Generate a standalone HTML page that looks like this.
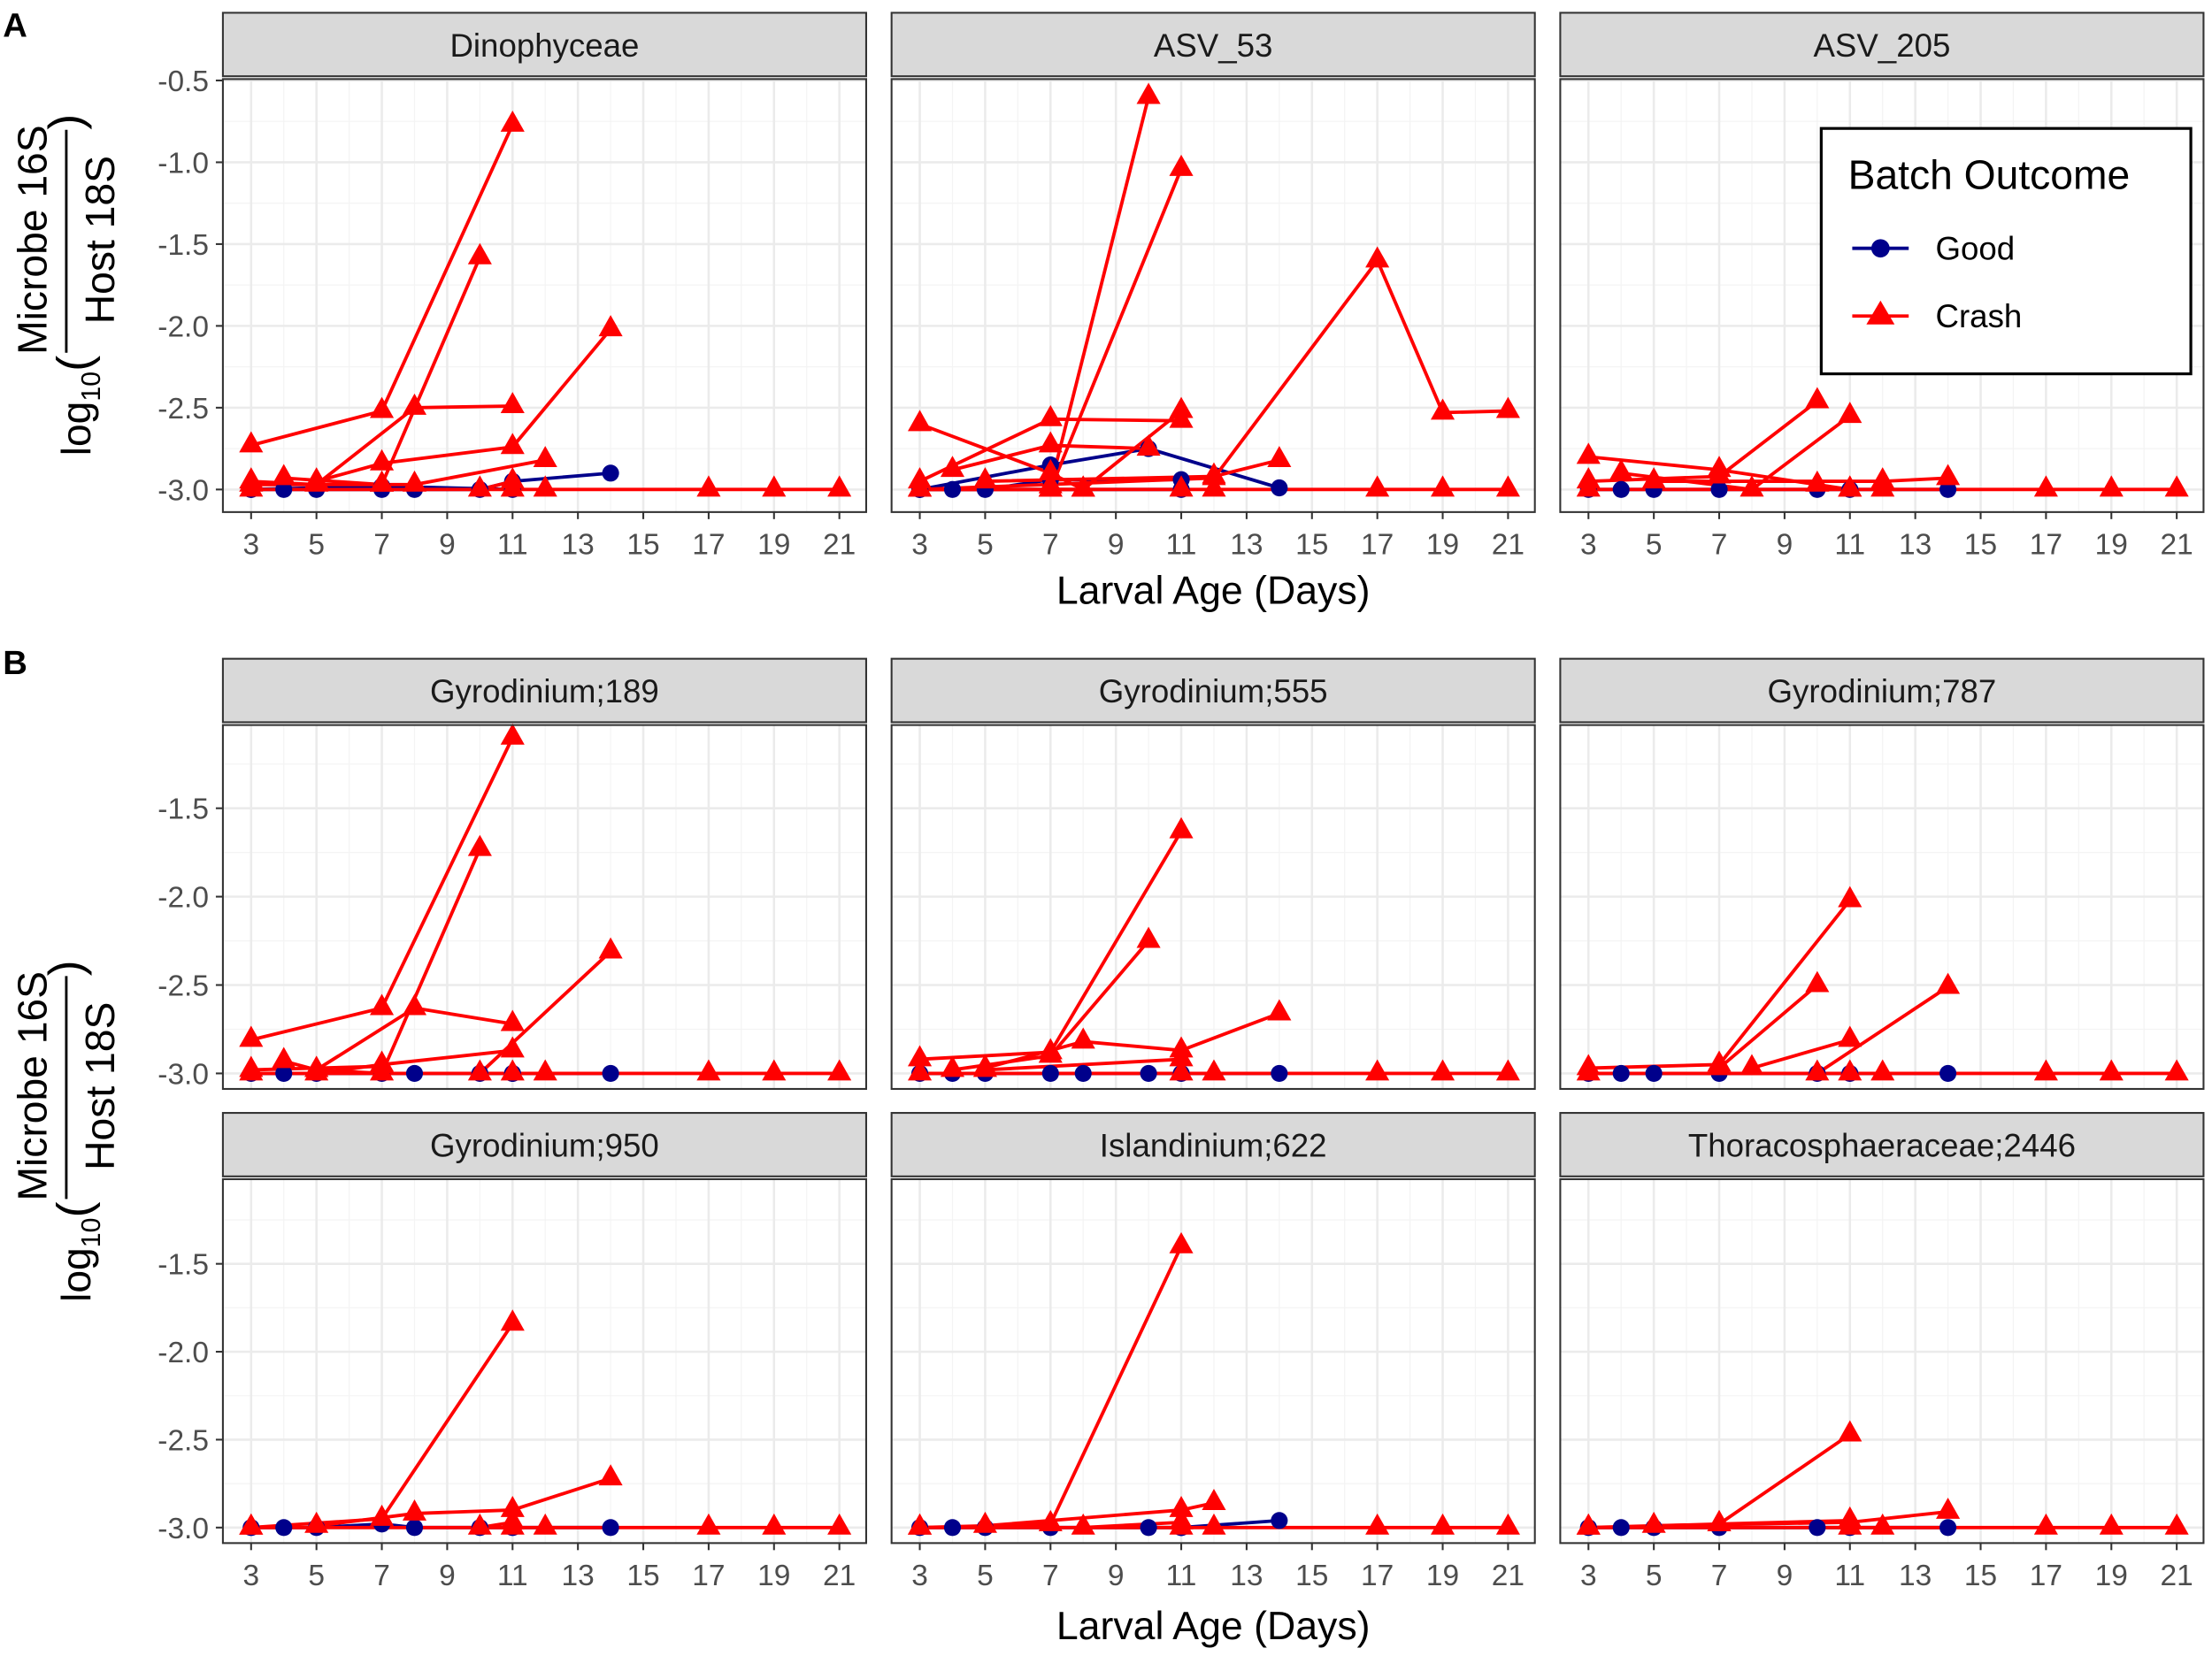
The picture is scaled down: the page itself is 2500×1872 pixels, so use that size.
<!DOCTYPE html>
<html><head><meta charset="utf-8"><style>
html,body{margin:0;padding:0;background:#fff}
svg{display:block}
text{font-family:"Liberation Sans",sans-serif}
</style></head><body>
<svg id="fig" width="2500" height="1872" viewBox="0 0 1568 1174" xmlns="http://www.w3.org/2000/svg">
<g id="root"></g>
</svg>
<script>
// ---- data ----
const panelTitles = ["Dinophyceae","ASV_53","ASV_205","Gyrodinium;189","Gyrodinium;555","Gyrodinium;787","Gyrodinium;950","Islandinium;622","Thoracosphaeraceae;2446"];
const xTicks = [3,5,7,9,11,13,15,17,19,21];
const yTicksA = [-0.5,-1.0,-1.5,-2.0,-2.5,-3.0];
const yTicksB = [-1.5,-2.0,-2.5,-3.0];
const flatDays = [3,11,12,17,19,21];
const crash0 = [
 [[3,-2.73],[7,-2.52],[11,-0.77]],
 [[3,-2.95],[5,-2.97],[8,-2.5],[11,-2.49]],
 [[4,-2.93],[7,-2.97],[10,-1.58]],
 [[5,-2.95],[7,-2.84],[11,-2.74],[14,-2.02]],
 [[3,-2.97],[7,-2.97],[8,-2.97],[12,-2.82]],
 [[10,-3.0],[11,-2.95]]
];
const good0 = [[[3,-3],[4,-3],[5,-3],[7,-3],[8,-3],[10,-3],[11,-2.95],[14,-2.9]],[[3,-3],[7,-2.98],[11,-3]]];
const crash1 = [
 [[3,-2.6],[7,-2.9],[8,-3.0]],
 [[7,-2.98],[10,-0.6]],
 [[3,-2.95],[7,-2.57],[11,-2.58]],
 [[4,-2.88],[7,-2.73],[10,-2.75]],
 [[7,-3.0],[11,-1.04]],
 [[3,-3],[7,-3],[8,-3],[11,-2.52]],
 [[3,-3],[12,-2.93],[17,-1.6],[19,-2.53],[21,-2.52]],
 [[5,-2.95],[12,-2.92],[14,-2.82]]
];
const good1 = [[[3,-3],[7,-2.85],[10,-2.75],[14,-2.99]],[[3,-3],[4,-3],[5,-3],[7,-2.94],[11,-2.94]],[[3,-3],[11,-3]]];
const crash2 = [
 [[3,-2.8],[7,-2.88],[10,-2.97],[11,-3]],
 [[3,-2.95],[7,-2.92],[10,-2.46]],
 [[4,-2.9],[8,-3.0],[11,-2.55]],
 [[5,-2.95],[12,-2.95],[14,-2.93]]
];
const good2 = [[[3,-3],[4,-3],[5,-3],[7,-3],[10,-3],[11,-3],[14,-3]]];
const crash3 = [
 [[3,-2.81],[7,-2.63],[11,-1.1]],
 [[5,-2.98],[8,-2.63],[11,-2.72]],
 [[4,-2.93],[5,-2.98],[7,-3.0],[10,-1.73]],
 [[5,-3],[7,-2.95],[11,-2.87]],
 [[10,-3],[14,-2.31]],
 [[3,-2.98],[7,-2.96]]
];
const good3 = [[[3,-3],[4,-3],[5,-3],[7,-3],[8,-3],[10,-3],[11,-3]],[[11,-3],[14,-3]]];
const crash4 = [
 [[3,-2.92],[7,-2.88],[11,-1.63]],
 [[4,-2.98],[7,-2.9],[10,-2.25]],
 [[5,-2.97],[8,-2.82],[11,-2.87],[14,-2.66]],
 [[5,-2.98],[11,-2.92]]
];
const good4 = [[[3,-3],[4,-3],[5,-3],[7,-3],[8,-3],[10,-3],[11,-3],[14,-3]]];
const crash5 = [
 [[3,-2.97],[7,-2.95],[11,-2.02]],
 [[7,-2.97],[10,-2.5]],
 [[8,-2.97],[11,-2.81]],
 [[10,-3],[14,-2.51]]
];
const good5 = [[[3,-3],[4,-3],[5,-3],[7,-3],[10,-3],[11,-3],[14,-3]]];
const crash6 = [
 [[3,-3],[7,-2.95],[11,-1.84]],
 [[5,-2.99],[8,-2.92],[11,-2.9],[14,-2.72]],
 [[10,-3],[11,-2.97]]
];
const good6 = [[[3,-3],[4,-3],[5,-3],[7,-2.98],[8,-3],[10,-3],[11,-3],[14,-3]]];
const crash7 = [
 [[3,-3],[7,-2.98],[11,-1.4]],
 [[5,-2.99],[11,-2.9],[12,-2.86]],
 [[8,-3],[11,-2.97]]
];
const good7 = [[[3,-3],[4,-3],[5,-3],[7,-3],[10,-3],[11,-3]],[[11,-3],[14,-2.96]]];
const crash8 = [
 [[3,-3],[7,-2.98],[11,-2.47]],
 [[5,-2.99],[11,-2.97],[14,-2.91]],
 [[7,-2.98],[11,-2.96]]
];
const good8 = [[[3,-3],[4,-3],[5,-3],[7,-3],[10,-3],[11,-3],[14,-3]]];
const crashAll=[crash0,crash1,crash2,crash3,crash4,crash5,crash6,crash7,crash8];
const goodAll=[good0,good1,good2,good3,good4,good5,good6,good7,good8];

// ---- layout ----
const NS="http://www.w3.org/2000/svg";
const root=document.getElementById('root');
function mk(tag,attrs,parent){const e=document.createElementNS(NS,tag);for(const k in attrs)e.setAttribute(k,attrs[k]);(parent||root).appendChild(e);return e;}
const colX=[158,632,1106], pw=456;
const rows=[
 {strip:9, top:56, bot:363, v0:-0.5, y0:57, v1:-3.0, y1:347, ticks:yTicksA, xt:true},
 {strip:467, top:514, bot:772, v0:-1.5, y0:573, v1:-3.0, y1:761, ticks:yTicksB, xt:false},
 {strip:789, top:836, bot:1094, v0:-1.5, y0:896, v1:-3.0, y1:1083, ticks:yTicksB, xt:true}
];
function xs(px,d){return px+20+(d-3)*(417/18);}
for(let p=0;p<9;p++){
 const r=rows[p<3?0:(p<6?1:2)], px=colX[p%3];
 const ys=v=>r.y0+(v-r.v0)*(r.y1-r.y0)/(r.v1-r.v0);
 const g=mk('g',{}); 
 
 
 mk('rect',{x:px,y:r.top,width:pw,height:r.bot-r.top,fill:'#fff'},g);
 for(let d=2;d<=22;d+=2){const x=xs(px,d); if(x>px&&x<px+pw) mk('line',{x1:x,x2:x,y1:r.top,y2:r.bot,stroke:'#f4f4f4','stroke-width':0.8},g);}
 for(let v=-0.25;v>=-3.5;v-=0.5){const y=ys(v); if(y>r.top&&y<r.bot) mk('line',{x1:px,x2:px+pw,y1:y,y2:y,stroke:'#f4f4f4','stroke-width':0.8},g);}
 xTicks.forEach(d=>{const x=xs(px,d);mk('line',{x1:x,x2:x,y1:r.top,y2:r.bot,stroke:'#ebebeb','stroke-width':1.6},g);});
 r.ticks.forEach(v=>{const y=ys(v);mk('line',{x1:px,x2:px+pw,y1:y,y2:y,stroke:'#ebebeb','stroke-width':1.6},g);});
 const lines=[];
 goodAll[p].forEach(s=>lines.push({s,c:'#00008b',t:'good'}));
 crashAll[p].forEach(s=>lines.push({s,c:'#ff0000',t:'crash'}));
 lines.push({s:flatDays.map(d=>[d,-3]),c:'#ff0000',t:'crash'});
 lines.forEach((L,i)=>{
  const pl=mk('polyline',{points:L.s.map(q=>xs(px,q[0])+','+ys(q[1])).join(' '),fill:'none',stroke:L.c,'stroke-width':2.4},g);
  
  
 });
 lines.forEach(L=>{
  L.s.forEach(q=>{
   const x=xs(px,q[0]),y=ys(q[1]);let m;
   if(L.t==='good'){m=mk('circle',{cx:x,cy:y,r:6,fill:'#00008b'},g);}
   else{m=mk('polygon',{points:`${x},${y-10} ${x-8.5},${y+5} ${x+8.5},${y+5}`,fill:'#ff0000'},g);}
   
   
  });
 });
 mk('rect',{x:px,y:r.top,width:pw,height:r.bot-r.top,fill:'none',stroke:'#333','stroke-width':1.3},g);
 mk('rect',{x:px,y:r.strip,width:pw,height:r.top-r.strip-2,fill:'#d9d9d9',stroke:'#333','stroke-width':1.3},g);
 const st=mk('text',{x:px+pw/2,y:r.strip+31,'text-anchor':'middle','font-size':23,fill:'#1a1a1a'},g);
 st.textContent=panelTitles[p];
 
 
 if(p%3===0){
  r.ticks.forEach(v=>{const y=ys(v);
   mk('line',{x1:px-5,x2:px,y1:y,y2:y,stroke:'#333','stroke-width':1.3},g);
   const t=mk('text',{x:px-10,y:y+7.5,'text-anchor':'end','font-size':21,fill:'#4d4d4d'},g);
   t.textContent=v.toFixed(1);
   
   
  });
 }
 if(r.xt){
  xTicks.forEach(d=>{const x=xs(px,d);
   mk('line',{x1:x,x2:x,y1:r.bot,y2:r.bot+5,stroke:'#333','stroke-width':1.3},g);
   const t=mk('text',{x:x,y:r.bot+30,'text-anchor':'middle','font-size':21,fill:'#4d4d4d'},g);
   t.textContent=d;
   
   
  });
 }
}
[418,1152].forEach(y=>{
 const t=mk('text',{x:860,y:y+10,'text-anchor':'middle','font-size':28,fill:'#000'});
 t.textContent='Larval Age (Days)';
 
 
});
[210,810].forEach(cy=>{
 const g=mk('g',{transform:`translate(0,${cy}) rotate(-90)`});
 
 
 const t1=mk('text',{x:-42,y:64,'font-size':29,fill:'#000','text-anchor':'end'},g);
 t1.innerHTML='log<tspan font-size="19" dy="7">10</tspan><tspan dy="-7" font-size="34">(</tspan>';
 mk('line',{x1:-40,x2:118,y1:47,y2:47,stroke:'#000','stroke-width':1.8},g);
 const t2=mk('text',{x:40,y:33,'font-size':29,fill:'#000','text-anchor':'middle'},g);t2.textContent='Microbe 16S';
 const t3=mk('text',{x:40,y:81,'font-size':29,fill:'#000','text-anchor':'middle'},g);t3.textContent='Host 18S';
 const t4=mk('text',{x:118,y:58,'font-size':34,fill:'#000'},g);t4.textContent=')';
});
[['A',18],['B',470]].forEach(a=>{
 const t=mk('text',{x:2,y:a[1]+8,'font-size':24,'font-weight':'bold',fill:'#000'});
 t.textContent=a[0];
 
 
});
const lg=mk('g',{});


mk('rect',{x:1291,y:91,width:262,height:174,fill:'#fff',stroke:'#000','stroke-width':2},lg);
const lt=mk('text',{x:1310,y:134,'font-size':29,fill:'#000'},lg);lt.textContent='Batch Outcome';
mk('line',{x1:1313,x2:1353,y1:176,y2:176,stroke:'#00008b','stroke-width':2.4},lg);
mk('circle',{cx:1333,cy:176,r:6.5,fill:'#00008b'},lg);
const l1=mk('text',{x:1372,y:184,'font-size':23,fill:'#000'},lg);l1.textContent='Good';


mk('line',{x1:1313,x2:1353,y1:224,y2:224,stroke:'#ff0000','stroke-width':2.4},lg);
mk('polygon',{points:'1333,213 1323,230 1343,230',fill:'#ff0000'},lg);
const l2=mk('text',{x:1372,y:232,'font-size':23,fill:'#000'},lg);l2.textContent='Crash';


</script>
</body></html>
